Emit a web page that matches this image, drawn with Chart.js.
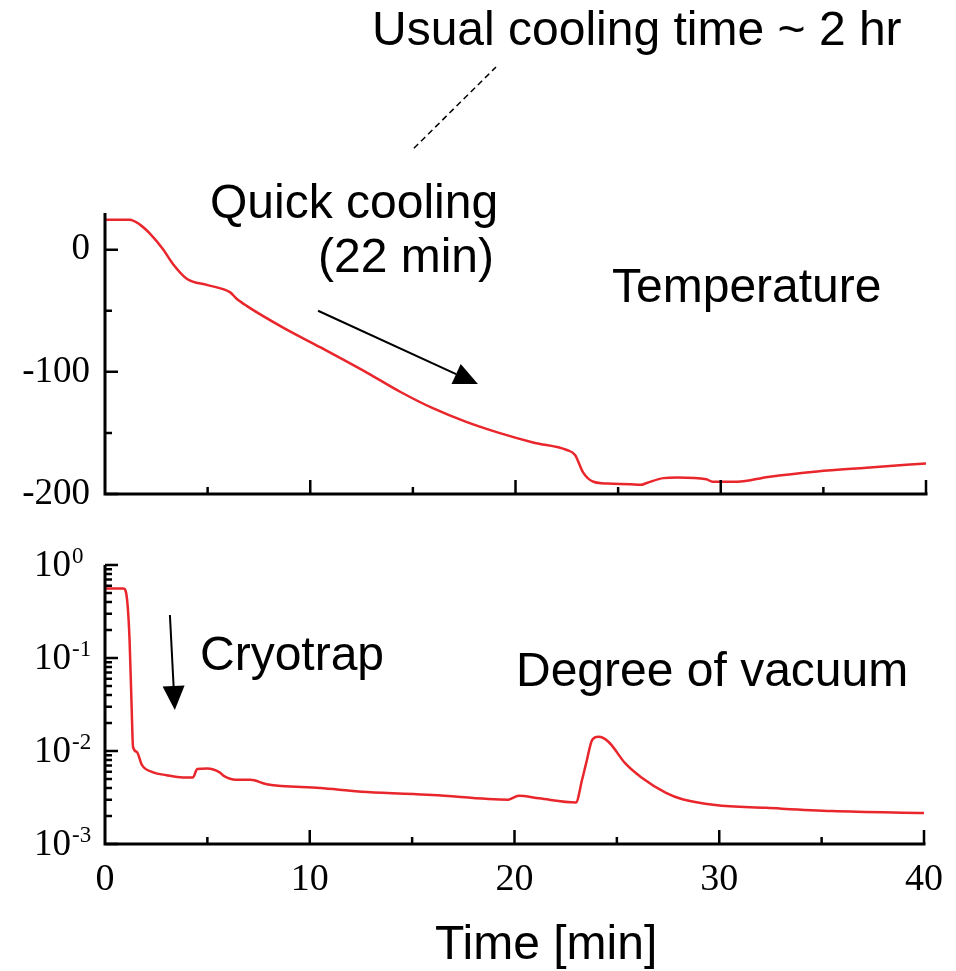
<!DOCTYPE html>
<html>
<head>
<meta charset="utf-8">
<script src="https://cdn.jsdelivr.net/npm/chart.js@4.4.1/dist/chart.umd.min.js"></script>
<style>
body { margin: 0; background: #fff; width: 956px; height: 971px; position: relative; overflow: hidden; font-family: "Liberation Sans", Arial, sans-serif; }
.box { position: absolute; left: 0; width: 956px; }
#topBox { top: 0; height: 520px; }
#botBox { top: 530px; height: 441px; }
.note { position: absolute; font-size: 48px; line-height: 48px; white-space: nowrap; color: #000; }
</style>
</head>
<body>
<div class="box" id="topBox"><canvas id="tempChart" width="956" height="520"></canvas></div>
<div class="box" id="botBox"><canvas id="vacChart" width="956" height="441"></canvas></div>

<div class="note" style="left:372px; top:5px;">Usual cooling time ~ 2 hr</div>
<div class="note" style="left:210px; top:178px;">Quick cooling</div>
<div class="note" style="left:318px; top:232px;">(22 min)</div>
<div class="note" style="left:612px; top:262px;">Temperature</div>
<div class="note" style="left:200px; top:630px;">Cryotrap</div>
<div class="note" style="left:516px; top:646px;">Degree of vacuum</div>
<div class="note" style="left:435px; top:919px;">Time [min]</div>

<script>
// temperature trace (min, deg C)
var temp_time = [0, 1.2, 1.7, 2.2, 2.8, 3.3, 4.0, 5.0, 6.1, 6.4, 6.9, 8.7, 10.5, 12.8, 14.4, 16.0, 17.6, 19.2, 20.9, 22.5, 22.9, 23.3, 23.8, 24.5, 25.6, 26.1, 26.4, 27.2, 27.9, 29.3, 29.6, 30.8, 32.3, 34.7, 37.1, 40];
var temp_vals = [24.5, 24.5, 20.5, 13, 1, -11.5, -24, -29, -35, -40, -46, -64, -80, -101, -116.5, -130, -141, -150, -158, -164, -168, -182.5, -190, -191.5, -192, -192.5, -191, -187, -186.5, -188, -190, -190, -186, -181.5, -178.5, -175];

// vacuum trace (min, pressure)
var vac_time = [0, 0.9, 1.07, 1.2, 1.3, 1.37, 1.55, 1.8, 2.35, 3.0, 3.8, 4.3, 4.5, 5.0, 5.6, 5.8, 6.4, 7.1, 7.9, 10.5, 12.8, 16.0, 19.7, 20.2, 21.2, 23.0, 23.3, 23.5, 23.8, 24.1, 24.6, 25.4, 26.2, 27.4, 28.2, 29.8, 32.3, 35.5, 40];
var vac_vals = [0.56, 0.56, 0.44, 0.156, 0.03, 0.011, 0.0098, 0.0071, 0.0059, 0.0055, 0.0052, 0.0052, 0.0064, 0.0065, 0.0059, 0.0054, 0.0049, 0.0049, 0.0044, 0.0040, 0.00363, 0.00337, 0.0030, 0.0033, 0.0031, 0.0028, 0.0049, 0.0074, 0.0132, 0.0142, 0.0125, 0.0074, 0.0052, 0.00355, 0.00303, 0.00263, 0.00245, 0.00226, 0.00215];

// tick labels
var x_ticks = [0, 10, 20, 30, 40];
var x_minor = [5, 15, 25, 35];
var temp_ticks = [-200, -100, 0];
var temp_minor = [-150, -50];
var vac_ticks = [0.001, 0.01, 0.1, 1];

const RED = '#e8262b';
const serif = '"Liberation Serif", "Times New Roman", serif';

function toPoints(xs, ys) {
    return xs.map((x, i) => ({ x: x, y: ys[i] }));
}

// axes drawn by hand so the ticks point inward like the original
function framePlugin(yMajor, yMinor) {
    return {
        id: 'frame',
        afterDraw(chart) {
            const ctx = chart.ctx, a = chart.chartArea;
            const xs = chart.scales.x, ys = chart.scales.y;
            ctx.save();
            ctx.strokeStyle = '#000';
            ctx.lineWidth = 3;
            ctx.beginPath();
            ctx.moveTo(a.left, a.top);
            ctx.lineTo(a.left, a.bottom);
            ctx.lineTo(a.right + 1.5, a.bottom);
            ctx.stroke();
            ctx.lineWidth = 2.5;
            ctx.beginPath();
            x_ticks.slice(1).forEach(v => {
                const p = xs.getPixelForValue(v);
                ctx.moveTo(p, a.bottom); ctx.lineTo(p, a.bottom - 14);
            });
            x_minor.forEach(v => {
                const p = xs.getPixelForValue(v);
                ctx.moveTo(p, a.bottom); ctx.lineTo(p, a.bottom - 7);
            });
            yMajor.forEach(v => {
                const p = ys.getPixelForValue(v);
                ctx.moveTo(a.left, p); ctx.lineTo(a.left + 13, p);
            });
            yMinor.forEach(v => {
                const p = ys.getPixelForValue(v);
                ctx.moveTo(a.left, p); ctx.lineTo(a.left + 7, p);
            });
            ctx.stroke();
            ctx.restore();
        }
    };
}

// 10^n labels with a real raised exponent
const powerLabels = {
    id: 'powerLabels',
    afterDraw(chart) {
        const ctx = chart.ctx, ys = chart.scales.y;
        ctx.save();
        ctx.fillStyle = '#000';
        ctx.textBaseline = 'middle';
        vac_ticks.forEach(v => {
            const p = ys.getPixelForValue(v);
            const e = String(Math.round(Math.log10(v)));
            ctx.font = '37px ' + serif;
            ctx.textAlign = 'left';
            ctx.fillText('10', 34, p + 1);
            const w = ctx.measureText('10').width;
            ctx.font = '23px ' + serif;
            ctx.textBaseline = 'alphabetic';
            ctx.fillText(e, 34 + w + 1, p - 2);
            ctx.textBaseline = 'middle';
        });
        ctx.restore();
    }
};

function arrow(ctx, x1, y1, x2, y2) {
    const ang = Math.atan2(y2 - y1, x2 - x1), len = 24, half = 11;
    const bx = x2 - len * Math.cos(ang), by = y2 - len * Math.sin(ang);
    ctx.beginPath();
    ctx.moveTo(x1, y1); ctx.lineTo(bx, by);
    ctx.stroke();
    ctx.beginPath();
    ctx.moveTo(x2, y2);
    ctx.lineTo(bx + half * Math.sin(ang), by - half * Math.cos(ang));
    ctx.lineTo(bx - half * Math.sin(ang), by + half * Math.cos(ang));
    ctx.closePath();
    ctx.fill();
}

// arrows and the dashed pointer, placed in data units
const tempNotes = {
    id: 'tempNotes',
    afterDraw(chart) {
        const ctx = chart.ctx, xs = chart.scales.x, ys = chart.scales.y;
        ctx.save();
        ctx.strokeStyle = '#000'; ctx.fillStyle = '#000'; ctx.lineWidth = 2;
        arrow(ctx, xs.getPixelForValue(10.38), ys.getPixelForValue(-50), xs.getPixelForValue(18.17), ys.getPixelForValue(-110));
        ctx.lineWidth = 1.5;
        ctx.setLineDash([6, 4]);
        ctx.beginPath();
        ctx.moveTo(xs.getPixelForValue(15.05), ys.getPixelForValue(83));
        ctx.lineTo(xs.getPixelForValue(19.05), ys.getPixelForValue(149.5));
        ctx.stroke();
        ctx.restore();
    }
};

const vacNotes = {
    id: 'vacNotes',
    afterDraw(chart) {
        const ctx = chart.ctx, xs = chart.scales.x, ys = chart.scales.y;
        ctx.save();
        ctx.strokeStyle = '#000'; ctx.fillStyle = '#000'; ctx.lineWidth = 2;
        arrow(ctx, xs.getPixelForValue(3.17), ys.getPixelForValue(0.29), xs.getPixelForValue(3.41), ys.getPixelForValue(0.0276));
        ctx.restore();
    }
};

var vac_minor = [];
vac_ticks.slice(0, 3).forEach(d => {
    for (var k = 2; k <= 9; k++) vac_minor.push(d * k);
});

// Canvas for temperature chart
new Chart(document.getElementById('tempChart'), {
    type: 'line',
    data: {
        datasets: [{
            data: toPoints(temp_time, temp_vals),
            borderColor: RED,
            borderWidth: 2.5,
            pointRadius: 0,
            cubicInterpolationMode: 'monotone',
            fill: false
        }]
    },
    options: {
        responsive: false,
        animation: false,
        events: [],
        layout: { padding: { top: 213, right: 30, left: 0, bottom: 0 } },
        plugins: { legend: { display: false }, tooltip: { enabled: false } },
        scales: {
            x: {
                type: 'linear', min: 0, max: 40,
                afterBuildTicks: s => { s.ticks = x_ticks.map(v => ({ value: v })); },
                afterFit: s => { s.height = 26; },
                ticks: { display: false },
                grid: { display: false, drawTicks: false },
                border: { display: false }
            },
            y: {
                type: 'linear', min: -200, max: 30,
                afterBuildTicks: s => { s.ticks = temp_ticks.map(v => ({ value: v })); },
                afterFit: s => { s.width = 105; },
                ticks: { color: '#000', padding: 15, font: { family: serif, size: 37, lineHeight: 0.2 } },
                grid: { display: false, drawTicks: false },
                border: { display: false }
            }
        }
    },
    plugins: [framePlugin(temp_ticks, temp_minor), tempNotes]
});

// Canvas for vacuum chart
new Chart(document.getElementById('vacChart'), {
    type: 'line',
    data: {
        datasets: [{
            data: toPoints(vac_time, vac_vals),
            borderColor: RED,
            borderWidth: 2.5,
            pointRadius: 0,
            cubicInterpolationMode: 'monotone',
            fill: false
        }]
    },
    options: {
        responsive: false,
        animation: false,
        events: [],
        layout: { padding: { top: 35, right: 30, left: 0, bottom: 0 } },
        plugins: { legend: { display: false }, tooltip: { enabled: false } },
        scales: {
            x: {
                type: 'linear', min: 0, max: 40,
                afterBuildTicks: s => { s.ticks = x_ticks.map(v => ({ value: v })); },
                afterFit: s => { s.height = 127; },
                ticks: { color: '#000', padding: 13, maxRotation: 0, font: { family: serif, size: 38 } },
                grid: { display: false, drawTicks: false },
                border: { display: false }
            },
            y: {
                type: 'logarithmic', min: 0.001, max: 1,
                afterBuildTicks: s => { s.ticks = vac_ticks.map(v => ({ value: v })); },
                afterFit: s => { s.width = 105; },
                ticks: { display: false },
                grid: { display: false, drawTicks: false },
                border: { display: false }
            }
        }
    },
    plugins: [framePlugin(vac_ticks, vac_minor), vacNotes, powerLabels]
});
</script>
</body>
</html>
